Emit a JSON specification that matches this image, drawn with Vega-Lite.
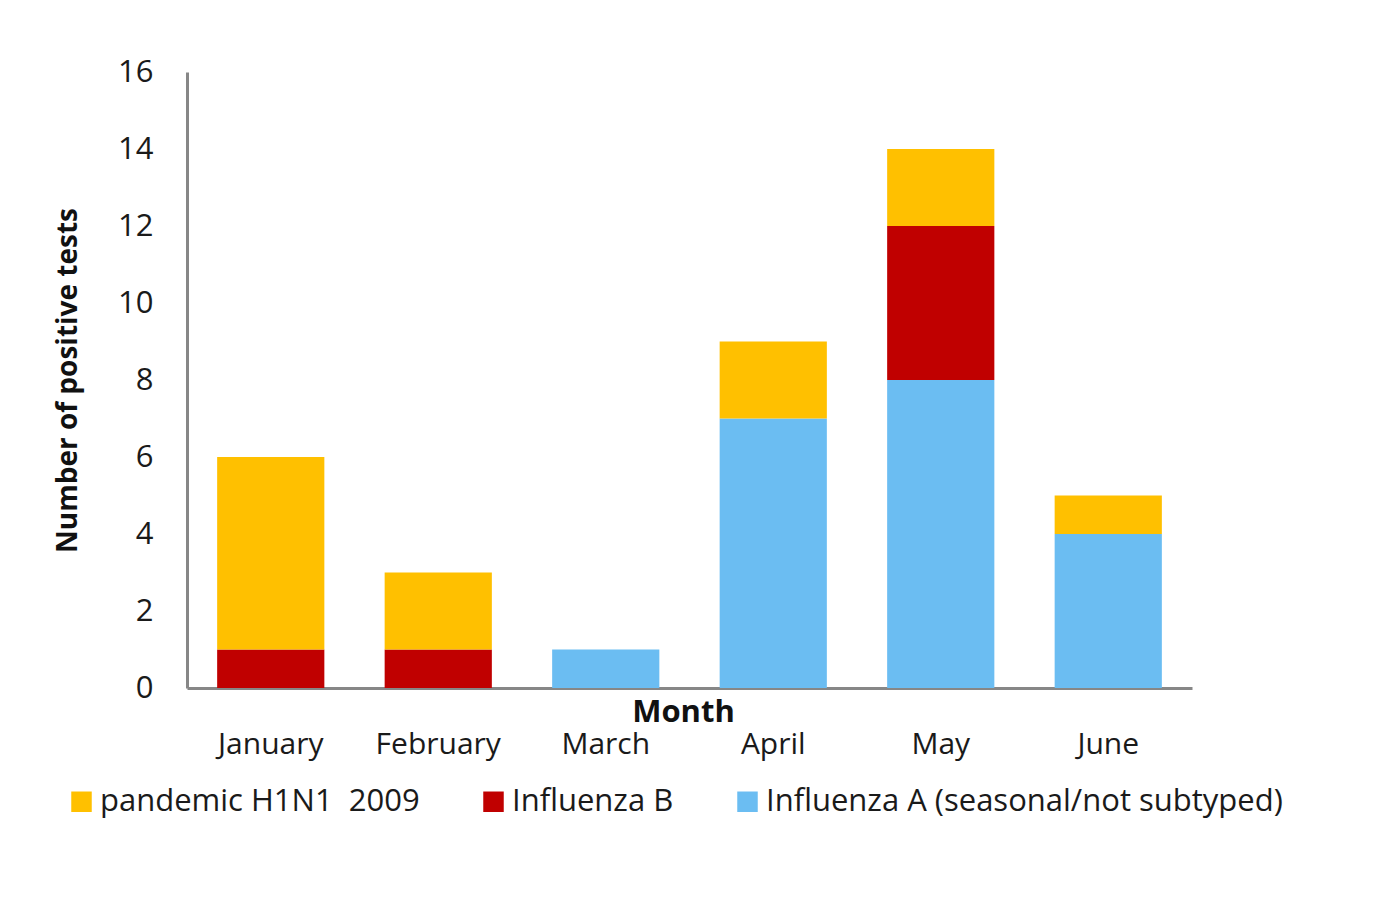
{
  "$schema": "https://vega.github.io/schema/vega-lite/v6.json",
  "width": 1005,
  "height": 616,
  "autosize": {"type": "none"},
  "padding": {"left": 187, "top": 72, "right": 189, "bottom": 218},
  "background": "white",
  "config": {
    "view": {"stroke": null},
    "font": "Open Sans",
    "axis": {"grid": false, "ticks": false, "domainColor": "#878787", "domainWidth": 3, "labelColor": "#1a1a1a", "titleColor": "#111111", "labelFont": "Open Sans", "titleFont": "Open Sans"}
  },
  "data": {
    "values": [
      {"month": "January", "type": "Influenza A (seasonal/not subtyped)", "rank": 1, "count": 0},
      {"month": "January", "type": "Influenza B", "rank": 2, "count": 1},
      {"month": "January", "type": "pandemic H1N1\u00a0 2009", "rank": 3, "count": 5},
      {"month": "February", "type": "Influenza A (seasonal/not subtyped)", "rank": 1, "count": 0},
      {"month": "February", "type": "Influenza B", "rank": 2, "count": 1},
      {"month": "February", "type": "pandemic H1N1\u00a0 2009", "rank": 3, "count": 2},
      {"month": "March", "type": "Influenza A (seasonal/not subtyped)", "rank": 1, "count": 1},
      {"month": "March", "type": "Influenza B", "rank": 2, "count": 0},
      {"month": "March", "type": "pandemic H1N1\u00a0 2009", "rank": 3, "count": 0},
      {"month": "April", "type": "Influenza A (seasonal/not subtyped)", "rank": 1, "count": 7},
      {"month": "April", "type": "Influenza B", "rank": 2, "count": 0},
      {"month": "April", "type": "pandemic H1N1\u00a0 2009", "rank": 3, "count": 2},
      {"month": "May", "type": "Influenza A (seasonal/not subtyped)", "rank": 1, "count": 8},
      {"month": "May", "type": "Influenza B", "rank": 2, "count": 4},
      {"month": "May", "type": "pandemic H1N1\u00a0 2009", "rank": 3, "count": 2},
      {"month": "June", "type": "Influenza A (seasonal/not subtyped)", "rank": 1, "count": 4},
      {"month": "June", "type": "Influenza B", "rank": 2, "count": 0},
      {"month": "June", "type": "pandemic H1N1\u00a0 2009", "rank": 3, "count": 1}
    ]
  },
  "mark": {"type": "bar"},
  "encoding": {
    "x": {
      "field": "month",
      "type": "nominal",
      "sort": ["January", "February", "March", "April", "May", "June"],
      "scale": {"paddingInner": 0.36, "paddingOuter": 0.18},
      "axis": {
        "title": "Month",
        "labelAngle": 0,
        "labelFontSize": 30,
        "labelPadding": 41,
        "labelBaseline": "top",
        "titleFontSize": 31,
        "titleFontWeight": "bold",
        "titleX": 496,
        "titleAlign": "center",
        "titleY": 24,
        "titleBaseline": "middle"
      }
    },
    "y": {
      "field": "count",
      "type": "quantitative",
      "stack": "zero",
      "scale": {"domain": [0, 16], "nice": false},
      "axis": {
        "title": "Number of positive tests",
        "values": [0, 2, 4, 6, 8, 10, 12, 14, 16],
        "labelFontSize": 31,
        "labelPadding": 34,
        "titleFontSize": 28,
        "titleFontWeight": "bold",
        "titleX": -119,
        "titleBaseline": "middle",
        "titleAngle": -90
      }
    },
    "color": {
      "field": "type",
      "type": "nominal",
      "scale": {
        "domain": ["pandemic H1N1\u00a0 2009", "Influenza B", "Influenza A (seasonal/not subtyped)"],
        "range": ["#FFC000", "#C00000", "#6BBDF2"]
      },
      "legend": {
        "title": null,
        "orient": "none",
        "direction": "horizontal",
        "legendX": -121,
        "legendY": 714,
        "symbolType": "square",
        "symbolSize": 420,
        "symbolStrokeWidth": 0,
        "labelFontSize": 31,
        "labelColor": "#1a1a1a",
        "labelFont": "Open Sans",
        "labelOffset": 3,
        "columnPadding": 58,
        "padding": 0,
        "labelLimit": 700
      }
    },
    "order": {"field": "rank", "type": "quantitative"}
  }
}
